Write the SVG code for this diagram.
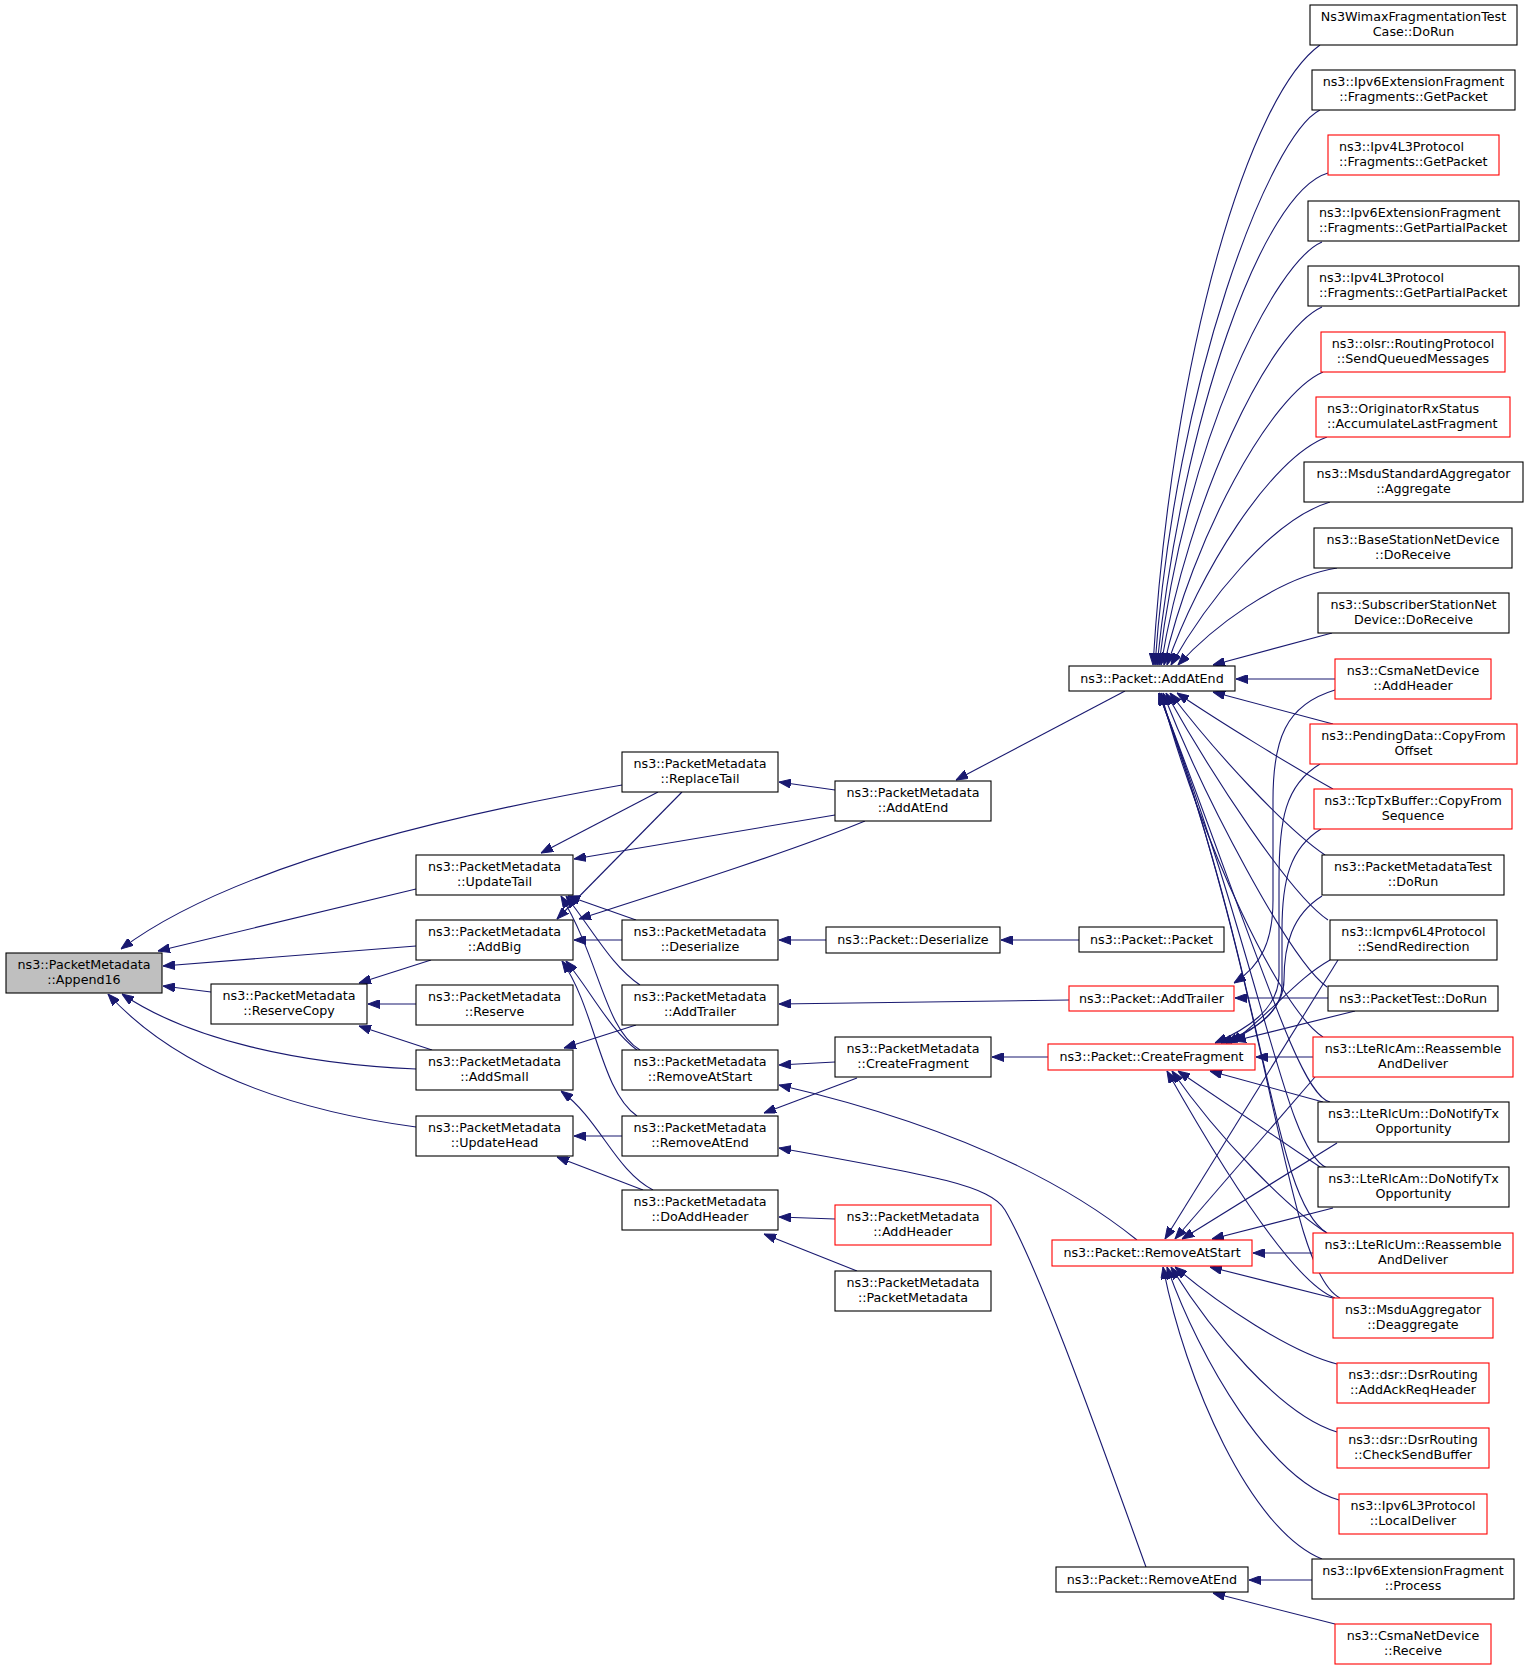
<svg xmlns="http://www.w3.org/2000/svg" width="1528" height="1671" viewBox="0 0 1528 1671">
<style>
.node rect{fill:#ffffff;stroke:#000000;stroke-width:1.1}
.node.red rect{stroke:#ff0000}
.node.root rect{fill:#bfbfbf}
.node text{font-family:"DejaVu Sans","Noto Sans",sans-serif;font-size:12.7px;text-anchor:middle;fill:#000000}
.node.l text{text-anchor:start}
.edges path{fill:none;stroke:#191970;stroke-width:1.1;marker-end:url(#ah)}
</style>
<defs>
<marker id="ah" markerUnits="userSpaceOnUse" markerWidth="12" markerHeight="9" refX="12" refY="4.5" orient="auto" viewBox="0 0 12 9">
<path d="M0,0 L12,4.5 L0,9 z" fill="#191970" stroke="#191970" stroke-width="1"/>
</marker>
</defs>
<rect x="0" y="0" width="1528" height="1671" fill="#ffffff"/>
<g class="edges">
<path d="M622,785 C480,810 240,860 121,949"/>
<path d="M416,889 L158,951"/>
<path d="M416,946 L163,966"/>
<path d="M211,992 L163,986"/>
<path d="M416,1069 C300,1064 190,1040 122,994"/>
<path d="M416,1127 C305,1112 185,1078 108,994"/>
<path d="M431,960 L359,983"/>
<path d="M416,1004 L368,1004"/>
<path d="M432,1050 L359,1026"/>
<path d="M658,792 L541,853"/>
<path d="M835,815 L574,859"/>
<path d="M636,920 L568,896"/>
<path d="M640,985 C612,966 596,935 566,896"/>
<path d="M640,1050 C604,1028 600,960 561,896"/>
<path d="M682,792 L557,919"/>
<path d="M865,821 C790,852 660,893 579,919"/>
<path d="M622,940 L574,940"/>
<path d="M637,1050 C610,1030 590,990 566,961"/>
<path d="M637,1116 C600,1090 596,1010 562,961"/>
<path d="M636,1025 L564,1048"/>
<path d="M653,1190 C615,1170 600,1120 561,1091"/>
<path d="M622,1136 L574,1136"/>
<path d="M643,1190 L557,1157"/>
<path d="M835,790 L779,782"/>
<path d="M1125,691 L956,780"/>
<path d="M826,940 L779,940"/>
<path d="M1079,940 L1001,940"/>
<path d="M1069,1000 L779,1004"/>
<path d="M835,1062 L779,1065"/>
<path d="M1137,1240 C1050,1170 930,1120 779,1085"/>
<path d="M857,1078 L764,1113"/>
<path d="M1146,1567 C1100,1440 1040,1270 1005,1210 C990,1185 930,1175 779,1148"/>
<path d="M835,1219 L779,1217"/>
<path d="M857,1271 L764,1234"/>
<path d="M1048,1057 L992,1057"/>
<path d="M1320,45 C1250,95 1172,350 1153,665"/>
<path d="M1320,110 C1270,135 1175,380 1155,665"/>
<path d="M1328,173 C1262,192 1182,420 1157,665"/>
<path d="M1322,242 C1275,262 1185,440 1159,665"/>
<path d="M1322,307 C1270,330 1188,500 1161,665"/>
<path d="M1323,372 C1270,395 1192,540 1164,665"/>
<path d="M1327,437 C1270,458 1198,575 1167,665"/>
<path d="M1330,502 C1270,520 1205,605 1171,665"/>
<path d="M1337,568 C1275,578 1210,630 1178,665"/>
<path d="M1332,633 L1213,665"/>
<path d="M1335,679 L1236,679"/>
<path d="M1333,724 L1213,692"/>
<path d="M1333,789 C1290,765 1220,722 1177,693"/>
<path d="M1325,855 C1285,828 1215,752 1170,693"/>
<path d="M1328,920 C1290,895 1212,775 1166,693"/>
<path d="M1327,987 C1290,960 1205,800 1163,693"/>
<path d="M1323,1037 C1280,1010 1200,840 1161,693"/>
<path d="M1330,1102 C1300,1095 1262,965 1159,693"/>
<path d="M1327,1168 C1285,1150 1265,975 1159,693"/>
<path d="M1327,1233 C1272,1200 1268,990 1159,693"/>
<path d="M1340,1298 C1285,1270 1272,1000 1159,693"/>
<path d="M1328,998 L1235,998"/>
<path d="M1335,690 C1285,705 1273,740 1273,800 L1273,900 C1273,940 1262,965 1234,983"/>
<path d="M1320,764 C1285,785 1279,820 1279,880 L1279,975 C1279,1010 1245,1030 1215,1043"/>
<path d="M1321,829 C1290,848 1282,880 1282,930 L1282,985 C1282,1015 1250,1032 1221,1043"/>
<path d="M1322,896 C1292,915 1284,945 1284,980 C1284,1010 1255,1030 1226,1043"/>
<path d="M1330,960 C1295,980 1275,1010 1231,1043"/>
<path d="M1355,1011 L1234,1041"/>
<path d="M1323,1102 L1210,1071"/>
<path d="M1320,1167 L1178,1071"/>
<path d="M1327,1233 C1290,1210 1220,1140 1172,1071"/>
<path d="M1335,1298 C1300,1285 1240,1200 1167,1071"/>
<path d="M1313,1057 L1256,1057"/>
<path d="M1338,960 L1165,1239"/>
<path d="M1315,1077 L1175,1239"/>
<path d="M1337,1143 L1182,1239"/>
<path d="M1333,1208 L1212,1239"/>
<path d="M1313,1253 L1253,1253"/>
<path d="M1333,1298 L1210,1267"/>
<path d="M1337,1364 C1290,1352 1220,1305 1175,1267"/>
<path d="M1337,1432 C1280,1415 1210,1330 1171,1267"/>
<path d="M1339,1500 C1270,1480 1200,1360 1167,1267"/>
<path d="M1322,1559 C1250,1530 1185,1380 1163,1267"/>
<path d="M1312,1580 L1249,1580"/>
<path d="M1335,1624 L1213,1593"/>
</g>
<g id="n_append16" class="node root"><rect x="6" y="953" width="156" height="40"/><text x="84" y="969">ns3::PacketMetadata</text><text x="84" y="984">::Append16</text></g>
<g id="n_reservecopy" class="node"><rect x="211" y="984" width="156" height="40"/><text x="289" y="1000">ns3::PacketMetadata</text><text x="289" y="1015">::ReserveCopy</text></g>
<g id="n_updatetail" class="node"><rect x="416" y="855" width="157" height="40"/><text x="494.5" y="871">ns3::PacketMetadata</text><text x="494.5" y="886">::UpdateTail</text></g>
<g id="n_addbig" class="node"><rect x="416" y="920" width="157" height="40"/><text x="494.5" y="936">ns3::PacketMetadata</text><text x="494.5" y="951">::AddBig</text></g>
<g id="n_reserve" class="node"><rect x="416" y="985" width="157" height="40"/><text x="494.5" y="1001">ns3::PacketMetadata</text><text x="494.5" y="1016">::Reserve</text></g>
<g id="n_addsmall" class="node"><rect x="416" y="1050" width="157" height="40"/><text x="494.5" y="1066">ns3::PacketMetadata</text><text x="494.5" y="1081">::AddSmall</text></g>
<g id="n_updatehead" class="node"><rect x="416" y="1116" width="157" height="40"/><text x="494.5" y="1132">ns3::PacketMetadata</text><text x="494.5" y="1147">::UpdateHead</text></g>
<g id="n_replacetail" class="node"><rect x="622" y="752" width="156" height="40"/><text x="700" y="768">ns3::PacketMetadata</text><text x="700" y="783">::ReplaceTail</text></g>
<g id="n_pm_deserialize" class="node"><rect x="622" y="920" width="156" height="40"/><text x="700" y="936">ns3::PacketMetadata</text><text x="700" y="951">::Deserialize</text></g>
<g id="n_pm_addtrailer" class="node"><rect x="622" y="985" width="156" height="40"/><text x="700" y="1001">ns3::PacketMetadata</text><text x="700" y="1016">::AddTrailer</text></g>
<g id="n_pm_removeatstart" class="node"><rect x="622" y="1050" width="156" height="40"/><text x="700" y="1066">ns3::PacketMetadata</text><text x="700" y="1081">::RemoveAtStart</text></g>
<g id="n_pm_removeatend" class="node"><rect x="622" y="1116" width="156" height="40"/><text x="700" y="1132">ns3::PacketMetadata</text><text x="700" y="1147">::RemoveAtEnd</text></g>
<g id="n_doaddheader" class="node"><rect x="622" y="1190" width="156" height="40"/><text x="700" y="1206">ns3::PacketMetadata</text><text x="700" y="1221">::DoAddHeader</text></g>
<g id="n_pm_addatend" class="node"><rect x="835" y="781" width="156" height="40"/><text x="913" y="797">ns3::PacketMetadata</text><text x="913" y="812">::AddAtEnd</text></g>
<g id="n_p_deserialize" class="node"><rect x="826" y="927" width="174" height="26"/><text x="913" y="944">ns3::Packet::Deserialize</text></g>
<g id="n_pm_createfragment" class="node"><rect x="835" y="1037" width="156" height="40"/><text x="913" y="1053">ns3::PacketMetadata</text><text x="913" y="1068">::CreateFragment</text></g>
<g id="n_pm_addheader" class="node red"><rect x="835" y="1205" width="156" height="40"/><text x="913" y="1221">ns3::PacketMetadata</text><text x="913" y="1236">::AddHeader</text></g>
<g id="n_pm_packetmetadata" class="node"><rect x="835" y="1271" width="156" height="40"/><text x="913" y="1287">ns3::PacketMetadata</text><text x="913" y="1302">::PacketMetadata</text></g>
<g id="n_p_addatend" class="node"><rect x="1069" y="666" width="166" height="25"/><text x="1152" y="682.5">ns3::Packet::AddAtEnd</text></g>
<g id="n_p_packet" class="node"><rect x="1079" y="927" width="145" height="25"/><text x="1151.5" y="943.5">ns3::Packet::Packet</text></g>
<g id="n_p_addtrailer" class="node red"><rect x="1069" y="986" width="165" height="25"/><text x="1151.5" y="1002.5">ns3::Packet::AddTrailer</text></g>
<g id="n_p_createfragment" class="node red"><rect x="1048" y="1044" width="207" height="26"/><text x="1151.5" y="1061">ns3::Packet::CreateFragment</text></g>
<g id="n_p_removeatstart" class="node red"><rect x="1052" y="1240" width="200" height="26"/><text x="1152" y="1257">ns3::Packet::RemoveAtStart</text></g>
<g id="n_p_removeatend" class="node"><rect x="1056" y="1567" width="192" height="25"/><text x="1152" y="1583.5">ns3::Packet::RemoveAtEnd</text></g>
<g id="n_wimax" class="node"><rect x="1310" y="5" width="207" height="40"/><text x="1413.5" y="21">Ns3WimaxFragmentationTest</text><text x="1413.5" y="36">Case::DoRun</text></g>
<g id="n_ipv6_getpacket" class="node"><rect x="1312" y="70" width="203" height="40"/><text x="1413.5" y="86">ns3::Ipv6ExtensionFragment</text><text x="1413.5" y="101">::Fragments::GetPacket</text></g>
<g id="n_ipv4_getpacket" class="node red l"><rect x="1328" y="135" width="171" height="40"/><text x="1339" y="151">ns3::Ipv4L3Protocol</text><text x="1339" y="166">::Fragments::GetPacket</text></g>
<g id="n_ipv6_getpartial" class="node l"><rect x="1308" y="201" width="211" height="40"/><text x="1319" y="217">ns3::Ipv6ExtensionFragment</text><text x="1319" y="232">::Fragments::GetPartialPacket</text></g>
<g id="n_ipv4_getpartial" class="node l"><rect x="1308" y="266" width="211" height="40"/><text x="1319" y="282">ns3::Ipv4L3Protocol</text><text x="1319" y="297">::Fragments::GetPartialPacket</text></g>
<g id="n_olsr" class="node red"><rect x="1321" y="332" width="184" height="40"/><text x="1413" y="348">ns3::olsr::RoutingProtocol</text><text x="1413" y="363">::SendQueuedMessages</text></g>
<g id="n_originator" class="node red l"><rect x="1316" y="397" width="194" height="40"/><text x="1327" y="413">ns3::OriginatorRxStatus</text><text x="1327" y="428">::AccumulateLastFragment</text></g>
<g id="n_msdustd" class="node"><rect x="1304" y="462" width="219" height="40"/><text x="1413.5" y="478">ns3::MsduStandardAggregator</text><text x="1413.5" y="493">::Aggregate</text></g>
<g id="n_bsnd" class="node"><rect x="1314" y="528" width="198" height="40"/><text x="1413" y="544">ns3::BaseStationNetDevice</text><text x="1413" y="559">::DoReceive</text></g>
<g id="n_ssnd" class="node"><rect x="1318" y="593" width="191" height="40"/><text x="1413.5" y="609">ns3::SubscriberStationNet</text><text x="1413.5" y="624">Device::DoReceive</text></g>
<g id="n_csma_addheader" class="node red"><rect x="1335" y="659" width="156" height="40"/><text x="1413" y="675">ns3::CsmaNetDevice</text><text x="1413" y="690">::AddHeader</text></g>
<g id="n_pendingdata" class="node red"><rect x="1310" y="724" width="207" height="40"/><text x="1413.5" y="740">ns3::PendingData::CopyFrom</text><text x="1413.5" y="755">Offset</text></g>
<g id="n_tcptxbuffer" class="node red"><rect x="1314" y="789" width="198" height="40"/><text x="1413" y="805">ns3::TcpTxBuffer::CopyFrom</text><text x="1413" y="820">Sequence</text></g>
<g id="n_pmtest" class="node"><rect x="1322" y="855" width="182" height="40"/><text x="1413" y="871">ns3::PacketMetadataTest</text><text x="1413" y="886">::DoRun</text></g>
<g id="n_icmpv6" class="node"><rect x="1330" y="920" width="167" height="40"/><text x="1413.5" y="936">ns3::Icmpv6L4Protocol</text><text x="1413.5" y="951">::SendRedirection</text></g>
<g id="n_packettest" class="node"><rect x="1328" y="986" width="170" height="25"/><text x="1413" y="1002.5">ns3::PacketTest::DoRun</text></g>
<g id="n_lterlcam_reassemble" class="node red"><rect x="1313" y="1037" width="200" height="40"/><text x="1413" y="1053">ns3::LteRlcAm::Reassemble</text><text x="1413" y="1068">AndDeliver</text></g>
<g id="n_lterlcum_notify" class="node"><rect x="1318" y="1102" width="191" height="40"/><text x="1413.5" y="1118">ns3::LteRlcUm::DoNotifyTx</text><text x="1413.5" y="1133">Opportunity</text></g>
<g id="n_lterlcam_notify" class="node"><rect x="1318" y="1167" width="191" height="40"/><text x="1413.5" y="1183">ns3::LteRlcAm::DoNotifyTx</text><text x="1413.5" y="1198">Opportunity</text></g>
<g id="n_lterlcum_reassemble" class="node red"><rect x="1313" y="1233" width="200" height="40"/><text x="1413" y="1249">ns3::LteRlcUm::Reassemble</text><text x="1413" y="1264">AndDeliver</text></g>
<g id="n_msduagg" class="node red"><rect x="1333" y="1298" width="160" height="40"/><text x="1413" y="1314">ns3::MsduAggregator</text><text x="1413" y="1329">::Deaggregate</text></g>
<g id="n_dsr_ackreq" class="node red"><rect x="1337" y="1363" width="152" height="40"/><text x="1413" y="1379">ns3::dsr::DsrRouting</text><text x="1413" y="1394">::AddAckReqHeader</text></g>
<g id="n_dsr_checksend" class="node red"><rect x="1337" y="1428" width="152" height="40"/><text x="1413" y="1444">ns3::dsr::DsrRouting</text><text x="1413" y="1459">::CheckSendBuffer</text></g>
<g id="n_ipv6l3_local" class="node red"><rect x="1339" y="1494" width="148" height="40"/><text x="1413" y="1510">ns3::Ipv6L3Protocol</text><text x="1413" y="1525">::LocalDeliver</text></g>
<g id="n_ipv6ext_process" class="node"><rect x="1312" y="1559" width="202" height="40"/><text x="1413" y="1575">ns3::Ipv6ExtensionFragment</text><text x="1413" y="1590">::Process</text></g>
<g id="n_csma_receive" class="node red"><rect x="1335" y="1624" width="156" height="40"/><text x="1413" y="1640">ns3::CsmaNetDevice</text><text x="1413" y="1655">::Receive</text></g>
</svg>
